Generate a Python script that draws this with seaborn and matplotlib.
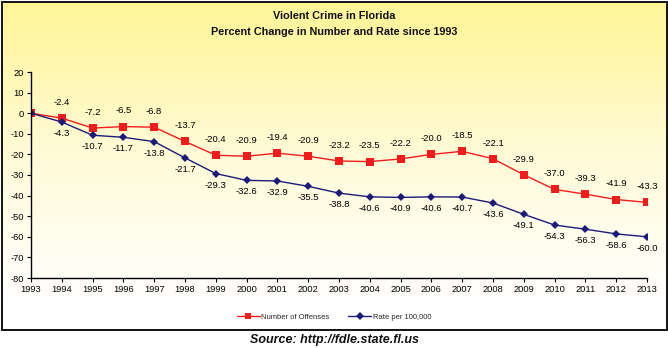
import numpy as np
import pandas as pd
import matplotlib
matplotlib.use("Agg")
import matplotlib.pyplot as plt
from matplotlib.colors import LinearSegmentedColormap
from matplotlib.patches import Rectangle
from matplotlib.lines import Line2D
import seaborn as sns

years = list(range(1993, 2014))
offenses = [0, -2.4, -7.2, -6.5, -6.8, -13.7, -20.4, -20.9, -19.4, -20.9, -23.2,
            -23.5, -22.2, -20.0, -18.5, -22.1, -29.9, -37.0, -39.3, -41.9, -43.3]
rate = [0, -4.3, -10.7, -11.7, -13.8, -21.7, -29.3, -32.6, -32.9, -35.5, -38.8,
        -40.6, -40.9, -40.6, -40.7, -43.6, -49.1, -54.3, -56.3, -58.6, -60.0]
series_names = ["Number of Offenses", "Rate per 100,000"]
yticks = list(range(20, -90, -10))

sns.set_theme(style="white")
plt.rcParams["font.family"] = ["Liberation Sans", "DejaVu Sans"]

df = pd.DataFrame({
    "year": years * 2,
    "value": offenses + rate,
    "series": [series_names[0]] * len(years) + [series_names[1]] * len(years),
})

W, H = 668, 348
fig = plt.figure(figsize=(W / 100, H / 100), dpi=100)
fig.patch.set_facecolor("white")

# yellow-to-white vertical gradient inside the framed panel
bg = fig.add_axes([0, 0, 1, 1], zorder=0)
bg.set_xlim(0, W)
bg.set_ylim(H, 0)
bg.axis("off")
grad = np.linspace(0, 1, 256).reshape(-1, 1)
cmap = LinearSegmentedColormap.from_list("bg", ["#FFF596", "#FFFBD6", "#FFFFFF"])
bg.imshow(grad, cmap=cmap, extent=[2, 666, 300, 2], aspect="auto", zorder=0)
bg.add_patch(Rectangle((2, 300), 664, 29, facecolor="white", edgecolor="none", zorder=0))
bg.add_patch(Rectangle((1.5, 1.5), 665, 328, facecolor="none", edgecolor="#111111",
                       linewidth=1.4, zorder=2))

ax = fig.add_axes([31 / W, 1 - 278 / H, (647 - 31) / W, (278 - 72) / H], zorder=1)
ax.patch.set_alpha(0)

palette = {series_names[0]: "#F21C1C", series_names[1]: "#1C1C78"}
markers = {series_names[0]: "s", series_names[1]: "D"}
sns.lineplot(data=df, x="year", y="value", hue="series", style="series",
             palette=palette, markers=markers, dashes=False, ax=ax,
             linewidth=1.0, markersize=5, markeredgewidth=0, legend=False)
# smaller diamonds for the rate series
for line in ax.lines:
    if line.get_marker() == "D":
        line.set_markersize(4)
    else:
        line.set_markersize(6)

ax.set_xlim(1993, 2013)
ax.set_ylim(-80, 20)
ax.set_xticks(years)
ax.set_xticklabels([str(y) for y in years], fontsize=6.7)
ax.set_yticks(yticks)
ax.set_yticklabels([str(t) for t in yticks], fontsize=6.7)
ax.set_xlabel("")
ax.set_ylabel("")
for s in ["top", "right"]:
    ax.spines[s].set_visible(False)
for s in ["left", "bottom"]:
    ax.spines[s].set_color("black")
    ax.spines[s].set_linewidth(1.0)
ax.tick_params(axis="both", direction="out", length=3, width=0.8, color="black",
               pad=2, labelcolor="black", left=True, bottom=True)
ax.grid(False)

# value labels: offenses above, rate below
for x, v in zip(years[1:], offenses[1:]):
    ax.annotate(f"{v:.1f}", (x, v), xytext=(0, 8), textcoords="offset points",
                ha="center", va="bottom", fontsize=6.8, color="black")
for x, v in zip(years[1:], rate[1:]):
    ax.annotate(f"{v:.1f}", (x, v), xytext=(0, -5), textcoords="offset points",
                ha="center", va="top", fontsize=6.8, color="black")

fig.text(0.5, 1 - 16 / H, "Violent Crime in Florida", ha="center", va="center",
         fontsize=7.8, fontweight="bold", color="#111111")
fig.text(0.5, 1 - 32 / H, "Percent Change in Number and Rate since 1993", ha="center",
         va="center", fontsize=7.8, fontweight="bold", color="#111111")

handles = [Line2D([], [], color=palette[n], marker=markers[n], linewidth=1.0,
                  markersize=4 if markers[n] == "D" else 4.5, markeredgewidth=0)
           for n in series_names]
fig.legend(handles, series_names, loc="center", bbox_to_anchor=(0.5, 1 - 317 / H),
           ncol=2, frameon=False, fontsize=5.5, handlelength=3, handletextpad=0.2,
           columnspacing=2.5)

fig.text(0.5, 1 - 340 / H, "Source: http://fdle.state.fl.us", ha="center", va="center",
         fontsize=9, fontweight="bold", fontstyle="italic", color="#111111")

fig.savefig("out.png", dpi=100)
